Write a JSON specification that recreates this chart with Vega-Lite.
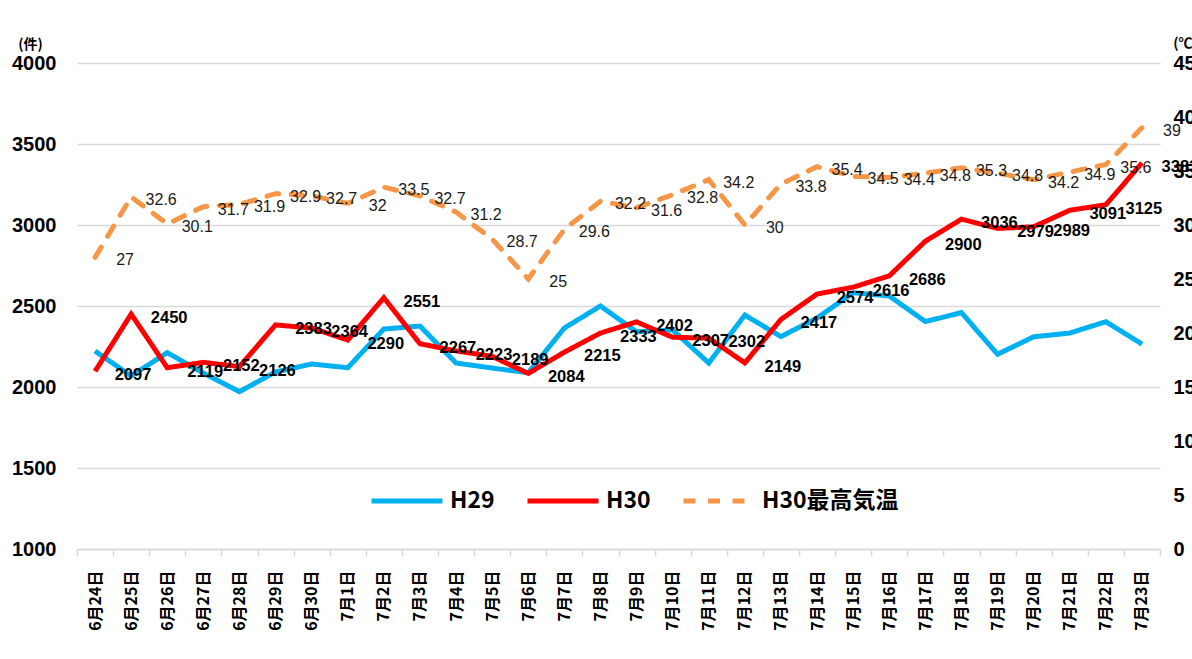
{
  "$schema": "https://vega.github.io/schema/vega-lite/v6.json",
  "width": 1083,
  "height": 486,
  "autosize": {"type": "none"},
  "padding": {"left": 77, "top": 63, "right": 32, "bottom": 110},
  "background": "white",
  "config": {
    "view": {"stroke": null},
    "font": "Liberation Sans",
    "legend": {
      "orient": "none",
      "legendX": 292,
      "legendY": 400,
      "direction": "horizontal",
      "symbolType": "stroke",
      "symbolSize": 5041,
      "symbolStrokeWidth": 5,
      "labelFontSize": 23,
      "labelFont": "Noto Sans CJK JP",
      "labelFontWeight": "bold",
      "labelColor": "black",
      "columnPadding": 22,
      "labelOffset": 5,
      "labelLimit": 400
    }
  },
  "data": {
    "values": [
      {"date": "6月24日", "H29": 2222, "H30": 2097, "temp": 27},
      {"date": "6月25日", "H29": 2068, "H30": 2450, "temp": 32.6},
      {"date": "6月26日", "H29": 2212, "H30": 2119, "temp": 30.1},
      {"date": "6月27日", "H29": 2086, "H30": 2152, "temp": 31.7},
      {"date": "6月28日", "H29": 1971, "H30": 2126, "temp": 31.9},
      {"date": "6月29日", "H29": 2093, "H30": 2383, "temp": 32.9},
      {"date": "6月30日", "H29": 2142, "H30": 2364, "temp": 32.7},
      {"date": "7月1日", "H29": 2119, "H30": 2290, "temp": 32},
      {"date": "7月2日", "H29": 2358, "H30": 2551, "temp": 33.5},
      {"date": "7月3日", "H29": 2376, "H30": 2267, "temp": 32.7},
      {"date": "7月4日", "H29": 2148, "H30": 2223, "temp": 31.2},
      {"date": "7月5日", "H29": 2117, "H30": 2189, "temp": 28.7},
      {"date": "7月6日", "H29": 2088, "H30": 2084, "temp": 25},
      {"date": "7月7日", "H29": 2364, "H30": 2215, "temp": 29.6},
      {"date": "7月8日", "H29": 2500, "H30": 2333, "temp": 32.2},
      {"date": "7月9日", "H29": 2341, "H30": 2402, "temp": 31.6},
      {"date": "7月10日", "H29": 2352, "H30": 2307, "temp": 32.8},
      {"date": "7月11日", "H29": 2148, "H30": 2302, "temp": 34.2},
      {"date": "7月12日", "H29": 2444, "H30": 2149, "temp": 30},
      {"date": "7月13日", "H29": 2311, "H30": 2417, "temp": 33.8},
      {"date": "7月14日", "H29": 2426, "H30": 2574, "temp": 35.4},
      {"date": "7月15日", "H29": 2582, "H30": 2616, "temp": 34.5},
      {"date": "7月16日", "H29": 2562, "H30": 2686, "temp": 34.4},
      {"date": "7月17日", "H29": 2404, "H30": 2900, "temp": 34.8},
      {"date": "7月18日", "H29": 2459, "H30": 3036, "temp": 35.3},
      {"date": "7月19日", "H29": 2202, "H30": 2979, "temp": 34.8},
      {"date": "7月20日", "H29": 2310, "H30": 2989, "temp": 34.2},
      {"date": "7月21日", "H29": 2333, "H30": 3091, "temp": 34.9},
      {"date": "7月22日", "H29": 2403, "H30": 3125, "temp": 35.6},
      {"date": "7月23日", "H29": 2265, "H30": 3383, "temp": 39}
    ]
  },
  "encoding": {
    "x": {
      "field": "date",
      "type": "ordinal",
      "sort": null,
      "scale": {"type": "band", "paddingInner": 0, "paddingOuter": 0},
      "axis": {
        "title": null,
        "labelAngle": 270,
        "labelFont": "Noto Sans CJK JP",
        "labelFontSize": 16,
        "labelFontWeight": "bold",
        "labelColor": "black",
        "labelPadding": 14,
        "tickBand": "extent",
        "tickColor": "#D9D9D9",
        "tickSize": 7,
        "tickWidth": 1.5,
        "domainColor": "#D9D9D9",
        "domainWidth": 1.5
      }
    }
  },
  "layer": [
    {
      "transform": [{"fold": ["H29", "H30"], "as": ["series", "count"]}],
      "encoding": {
        "y": {
          "field": "count",
          "type": "quantitative",
          "scale": {"domain": [1000, 4000]},
          "axis": {
            "title": "(件)",
            "titleAngle": 0,
            "titleX": -47,
            "titleY": -19,
            "titleAlign": "center",
            "titleBaseline": "middle",
            "titleFont": "Noto Sans CJK JP",
            "titleFontSize": 14,
            "titleFontWeight": "bold",
            "titleColor": "black",
            "values": [1000, 1500, 2000, 2500, 3000, 3500, 4000],
            "format": "d",
            "labelFontSize": 20,
            "labelFontWeight": "bold",
            "labelColor": "black",
            "labelPadding": 21,
            "domain": false,
            "ticks": false,
            "grid": true,
            "gridColor": "#D9D9D9",
            "gridWidth": 1.5
          }
        }
      },
      "layer": [
        {
          "mark": {"type": "line", "strokeWidth": 5},
          "encoding": {
            "color": {
              "field": "series",
              "type": "nominal",
              "scale": {"domain": ["H29", "H30", "H30最高気温"], "range": ["#00B0F0", "#FF0000", "#F79646"]},
              "legend": {"title": null}
            },
            "strokeDash": {
              "field": "series",
              "type": "nominal",
              "scale": {"domain": ["H29", "H30", "H30最高気温"], "range": [[1, 0], [1, 0], [12, 12.5]]},
              "legend": {"title": null}
            }
          }
        },
        {
          "transform": [{"filter": "datum.series === 'H30'"}],
          "mark": {"type": "text", "dx": 38, "dy": 4, "fontSize": 16.5, "fontWeight": "bold", "color": "black"},
          "encoding": {"text": {"field": "count", "type": "quantitative", "format": "d"}}
        }
      ]
    },
    {
      "encoding": {
        "y": {
          "field": "temp",
          "type": "quantitative",
          "scale": {"domain": [0, 45]},
          "axis": {
            "orient": "right",
            "title": "(℃)",
            "titleAngle": 0,
            "titleX": 25,
            "titleY": -20,
            "titleAlign": "center",
            "titleBaseline": "middle",
            "titleFont": "Noto Sans CJK JP",
            "titleFontSize": 14,
            "titleFontWeight": "bold",
            "titleColor": "black",
            "values": [0, 5, 10, 15, 20, 25, 30, 35, 40, 45],
            "format": "d",
            "labelFontSize": 20,
            "labelFontWeight": "bold",
            "labelColor": "black",
            "labelPadding": 13,
            "domain": false,
            "ticks": false,
            "grid": false
          }
        }
      },
      "layer": [
        {
          "mark": {"type": "line", "strokeWidth": 5, "strokeCap": "round"},
          "encoding": {
            "color": {"datum": "H30最高気温", "type": "nominal"},
            "strokeDash": {"datum": "H30最高気温", "type": "nominal"}
          }
        },
        {
          "mark": {"type": "text", "dx": 30, "dy": 3, "fontSize": 16, "color": "#1a1a1a"},
          "encoding": {"text": {"field": "temp", "type": "quantitative"}}
        }
      ]
    }
  ],
  "resolve": {"scale": {"y": "independent"}}
}
